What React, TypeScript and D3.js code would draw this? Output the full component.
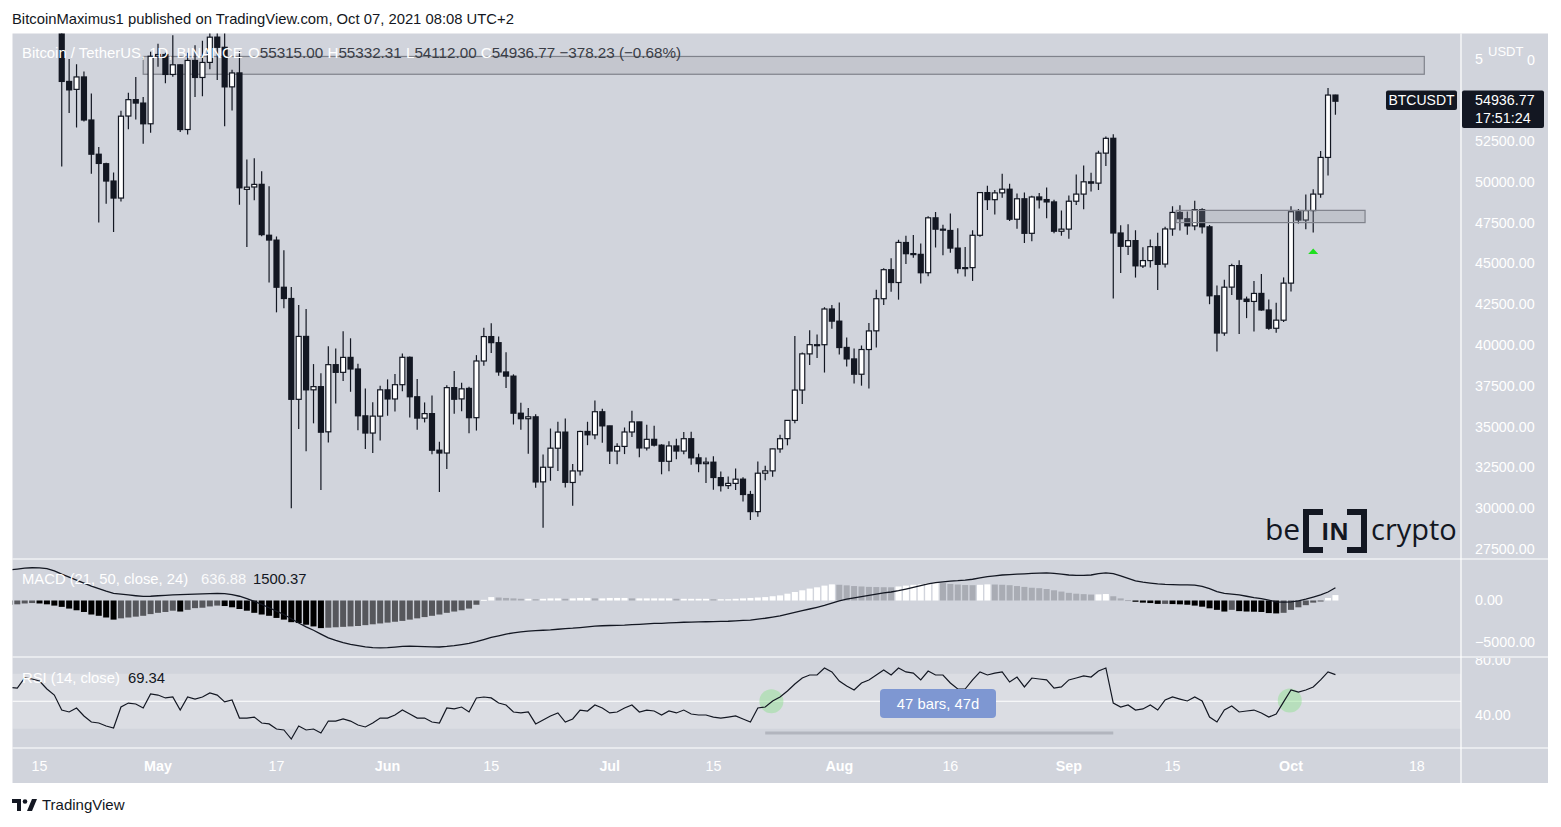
import React from 'react';
import * as d3 from 'd3';

// ---------- DATA (daily, 2021-04-11 .. 2021-10-07) ----------
const startDay = '2021-04-11';

const opens = [
  59770, 59964, 59835, 63503, 62963, 63110, 61342, 60006, 56150, 55663, 56425, 53787, 51690, 51110, 50047, 49004, 54030, 55036, 54824, 53555,
  57697, 57798, 56578, 57169, 53205, 57436, 56393, 57315, 58866, 58241, 55817, 56674, 49537, 49682, 49845, 46726, 46427, 43538, 42849, 36671, 40526, 37253, 37449, 34681, 38796, 38324, 39241, 38529, 35661, 34605, 35641,
  37253, 36694, 37568, 39246, 36830, 35517, 35796, 33556, 33381, 37389, 36697, 37340, 35546, 39020, 40516, 40143, 38349, 38092, 35820, 35483, 35601, 31614, 32509, 33675, 34663, 31577, 32283, 34702, 34494, 35911,
  35045, 33502, 33786, 34669, 35288, 33690, 34220, 33863, 32875, 33815, 33503, 34259, 33086, 32729, 32820, 31874, 31384, 31520, 31779, 30839, 29790, 32145, 32287, 33634, 34262, 35381, 37241, 39456, 40020, 40018, 42206,
  41461, 39851, 39147, 38208, 39723, 40868, 42836, 44614, 43829, 46280, 45601, 45554, 44429, 47793, 47096, 47019, 45937, 44686, 44741, 46723, 49339, 48905, 49322, 49546, 47706, 48961, 46843, 49072, 48911, 48768, 46970,
  47100, 48810, 49247, 50000, 49918, 51757, 52666, 46863, 46048, 46396, 44842, 45173, 46025, 44960, 47110, 48121, 47737, 47299, 48292, 47242, 43016, 40734, 43546, 44865, 42810, 42670, 43160, 42147, 41025, 41519,
  43791, 48166, 47657, 48234, 49246, 51493, 55315,
];
const highs = [
  60790, 61200, 63777, 64854, 63800, 63520, 62500, 60499, 57526, 57200, 56757, 55410, 52130, 51167, 50567, 54356, 55460, 56428, 55195, 57963,
  58458, 57911, 58981, 57200, 57911, 58360, 58650, 59500, 59300, 59500, 56862, 58000, 51367, 51439, 50639, 49720, 46643, 45799, 43547, 42451, 42200, 38831, 38270, 39920, 39791, 40841, 40411, 38856, 37338, 36488, 37499,
  37894, 38225, 39476, 39289, 37917, 36480, 36900, 34068, 37530, 38400, 37690, 37439, 39380, 41064, 41330, 40527, 39559, 38202, 36457, 36137, 35750, 33298, 34881, 35298, 35500, 32707, 34749, 35297, 36600, 36100,
  35057, 33977, 34945, 35967, 35293, 35118, 35059, 33918, 34100, 34262, 34666, 34678, 33340, 33114, 33185, 32249, 31949, 32435, 31899, 31063, 32858, 32595, 33650, 34500, 35398, 40550, 39542, 40900, 40640, 42316, 42448,
  42599, 40459, 39780, 39969, 41350, 43392, 44700, 45310, 46454, 46700, 46743, 46218, 47886, 48144, 47372, 48053, 47160, 46000, 47033, 49382, 49757, 49500, 50500, 49875, 49277, 49347, 49149, 49309, 49654, 48900, 48246,
  49156, 50450, 51000, 50558, 51900, 52780, 52920, 47340, 47399, 47031, 45987, 46460, 46880, 47250, 48500, 48557, 48177, 48843, 48372, 47347, 43639, 44000, 44978, 45200, 42966, 43919, 44350, 42787, 42590, 44141,
  48495, 48336, 49228, 49536, 51886, 55750, 55332.31,
];
const lows = [
  59289, 59369, 59800, 61301, 62000, 60000, 59580, 50931, 54221, 53329, 53695, 50500, 47500, 48657, 46930, 48800, 53222, 53813, 52330, 53013,
  57053, 56035, 56435, 53046, 52900, 55200, 55241, 56900, 56235, 53400, 54370, 48600, 46000, 48868, 46664, 43825, 42001, 42250, 30000, 34850, 33488, 35200, 31111, 34031, 36419, 37800, 37134, 34779, 33632, 33379, 34153,
  35666, 35920, 37170, 35555, 34800, 35257, 33300, 31000, 32396, 35782, 35936, 34600, 34757, 38730, 39506, 38116, 37365, 35129, 34803, 33336, 31251, 28806, 31683, 32286, 31275, 30151, 32000, 33862, 34225, 34017,
  32711, 32699, 33316, 34357, 33125, 33532, 33777, 32077, 32261, 33004, 33306, 32658, 32203, 31550, 31133, 31020, 31179, 31108, 30408, 29278, 29482, 31708, 31925, 33401, 33851, 35205, 36383, 38772, 39200, 38313, 41000,
  39422, 38690, 37642, 37508, 37333, 39853, 42446, 43261, 42779, 44969, 45341, 43771, 44217, 45971, 45500, 45660, 44376, 44203, 43927, 46628, 48272, 48003, 49029, 47600, 47122, 46250, 46361, 48370, 47762, 46853, 46700,
  46513, 48584, 48316, 49400, 49500, 50969, 42843, 44412, 45514, 44132, 44722, 44742, 43370, 44750, 46700, 47021, 46750, 47035, 46829, 42500, 39600, 40565, 43063, 40675, 41646, 40829, 42098, 40931, 40753, 41410,
  43283, 47438, 47088, 46891, 49021, 50382, 54112,
];
const closes = [
  59964, 59835, 63503, 62963, 63110, 61342, 60006, 56150, 55633, 56425, 53787, 51690, 51125, 50047, 49004, 54021, 55033, 54824, 53555, 57694,
  57800, 56578, 57169, 53200, 57436, 56393, 57314, 58862, 58240, 55816, 56670, 49631, 49671, 49841, 46762, 46431, 43538, 42849, 36671, 40526, 37252, 37449, 34655, 38796, 38324, 39241, 38529, 35663, 34605, 35641, 37253,
  36693, 37568, 39246, 36829, 35520, 35796, 33552, 33380, 37388, 36675, 37313, 35546, 39020, 40516, 40144, 38349, 38092, 35820, 35483, 35600, 31608, 32509, 33678, 34663, 31584, 32283, 34700, 34494, 35911, 35045,
  33504, 33786, 34669, 35287, 33691, 34220, 33863, 32875, 33815, 33502, 34259, 33086, 32729, 32820, 31880, 31383, 31520, 31778, 30839, 29790, 32144, 32287, 33634, 34258, 35381, 37237, 39457, 40020, 40017, 42206, 41461,
  39845, 39147, 38207, 39723, 40862, 42836, 44614, 43829, 46285, 45595, 45553, 44428, 47793, 47096, 47047, 45936, 44686, 44741, 46723, 49339, 48905, 49321, 49546, 47706, 48960, 46843, 49069, 48895, 48767, 46970, 47100,
  48810, 49246, 49999, 49915, 51756, 52663, 46863, 46048, 46395, 44850, 45173, 46025, 44940, 47111, 48122, 47737, 47299, 48292, 47241, 43015, 40734, 43543, 44865, 42810, 42670, 43160, 42147, 41026, 41522, 43790,
  48165, 47657, 48233, 49246, 51493, 55315, 54936.77,
];

const macdLine = [
  3600, 3700, 3800, 3850, 3840, 3750, 3490, 3100, 2750, 2400, 2050, 1700, 1400, 1100, 850, 750, 650, 560, 480, 500,
  560, 600, 650, 680, 720, 760, 790, 820, 830, 800, 700, 500, 230, -100, -450, -850, -1250, -1650, -2150, -2650, -3100, -3500, -3950, -4400, -4700, -4950, -5150, -5300, -5450, -5550, -5580,
  -5550, -5480, -5400, -5380, -5400, -5430, -5450, -5470, -5400, -5300, -5180, -5050, -4850, -4600, -4350, -4150, -3950, -3800, -3700, -3600, -3550, -3500, -3450, -3380, -3300, -3250, -3180, -3100, -3020, -2970,
  -2940, -2920, -2900, -2850, -2800, -2750, -2700, -2680, -2640, -2600, -2560, -2540, -2520, -2500, -2480, -2460, -2440, -2400, -2350, -2300, -2200, -2090, -1950, -1800, -1600, -1400, -1200, -1000, -800, -580, -300,
  -50, 150, 300, 450, 600, 750, 900, 1000, 1160, 1350, 1550, 1750, 1950, 2100, 2200, 2280, 2330, 2400, 2500, 2650, 2800, 2900, 3000, 3050, 3100, 3140, 3180, 3220, 3250, 3200, 3100,
  3000, 2950, 2950, 3000, 3150, 3260, 3150, 2900, 2600, 2300, 2150, 2050, 1950, 1900, 1870, 1850, 1840, 1820, 1650, 1400, 1050, 850, 750, 650, 500, 350, 220, 50, -150, -200,
  -150, -50, 150, 400, 650, 1000, 1500.37,
];
const macdHist = [
  -500, -450, -350, -300, -350, -450, -600, -750, -950, -1150, -1350, -1650, -1800, -2000, -2250, -2100, -2000, -1900, -1800, -1600,
  -1450, -1350, -1200, -1300, -1100, -900, -850, -700, -600, -650, -800, -1000, -1200, -1450, -1650, -1800, -2050, -2250, -2550, -2650, -2850, -3050, -3250, -3200, -3150, -3100, -3050, -3000, -2900, -2800, -2700,
  -2600, -2500, -2400, -2250, -2100, -1950, -1800, -1650, -1450, -1300, -1150, -950, -500, 80, 400, 350, 300, 250, 200, 200, 150, 200, 250, 250, 200, 250, 300, 300, 250, 250,
  300, 300, 300, 250, 250, 250, 250, 250, 250, 200, 200, 200, 200, 200, 150, 150, 150, 200, 250, 300, 350, 400, 500, 600, 800, 1000, 1200, 1400, 1550, 1750, 1900,
  1850, 1780, 1700, 1650, 1600, 1580, 1560, 1550, 1650, 1750, 1850, 1900, 2050, 2100, 2050, 1950, 1880, 1820, 1800, 1850, 1900, 1880, 1850, 1800, 1700, 1600, 1500, 1450, 1350, 1200, 1050,
  900, 800, 750, 700, 720, 760, 500, 250, 50, -150, -250, -300, -400, -400, -420, -450, -500, -600, -730, -920, -1100, -1300, -1100, -1250, -1300, -1320, -1350, -1480, -1520, -1450,
  -1100, -800, -550, -250, -100, 300, 636.88,
];
const rsiValues = [
  60, 59.6, 66.9, 66.2, 64.7, 58.9, 54.5, 43.6, 42.2, 45.1, 39.3, 34.9, 34.2, 32, 30.5, 45.8, 48.7, 48, 45.1, 55.3,
  54.5, 52.4, 53.1, 43.6, 53.1, 51.6, 53.1, 56, 54.5, 49.5, 50.9, 37.8, 37.8, 38.5, 34.2, 33.5, 29.8, 29.1, 22.5, 32, 29.1, 29.8, 26.9, 35.6, 35.6, 37.1, 35.6, 32.7, 31.3, 34.2, 37.8,
  37.8, 40, 43.6, 40.7, 37.8, 37.8, 34.9, 34.2, 45.1, 44.4, 45.8, 42.2, 52.4, 53.1, 52.4, 48.7, 47.3, 42.2, 41.5, 42.2, 33.5, 36.4, 39.3, 41.5, 34.9, 37.1, 43.6, 42.9, 47.3, 45.1,
  41.5, 42.2, 45.1, 47.3, 42.2, 43.6, 42.9, 40, 42.9, 41.5, 43.6, 40.7, 40, 40, 38.5, 37.8, 38.5, 39.3, 37.1, 34.9, 45.1, 45.8, 50.2, 53.1, 57.5, 62.5, 66.9, 69.1, 69.1, 74.2, 71.3,
  64.7, 61.1, 58.2, 63.3, 65.5, 69.1, 72.7, 69.1, 74.2, 71.3, 70.5, 65.5, 72, 69.1, 69.1, 63.3, 58.9, 58.9, 65.5, 71.3, 69.1, 70.5, 71.3, 64, 67.6, 60.4, 66.9, 66.2, 65.5, 59.6, 60.4,
  65.5, 66.9, 68.4, 67.6, 72, 74.2, 48.7, 45.8, 47.3, 43.6, 44.4, 47.3, 43.6, 50.9, 53.1, 51.6, 50.2, 53.1, 50.2, 38.5, 34.9, 43.6, 46.5, 42.2, 42.9, 43.6, 41.5, 38.5, 40.7, 49.5,
  58.2, 56.7, 58.2, 60.4, 65.5, 71.3, 69.34,
];

const priceTicks = [57500, 52500, 50000, 47500, 45000, 42500, 40000, 37500, 35000, 32500, 30000, 27500];
const macdTicks = [0, -5000];
const rsiTicks = [80, 40];
const timeTickDates = ['2021-04-15', '2021-05-01', '2021-05-17', '2021-06-01', '2021-06-15', '2021-07-01', '2021-07-15', '2021-08-01', '2021-08-16', '2021-09-01', '2021-09-15', '2021-10-01', '2021-10-18'];
const timeTickLabels = ['15', 'May', '17', 'Jun', '15', 'Jul', '15', 'Aug', '16', 'Sep', '15', 'Oct', '18'];

// zones drawn on the chart
const resistanceZone = { from: '2021-04-29', to: '2021-10-19', top: 57680, bottom: 56590 };
const supportZone = { from: '2021-09-15T12:00', to: '2021-10-11', top: 48250, bottom: 47500 };
const arrowDay = '2021-10-04';
const rsiCircles = [{ day: '2021-07-22T20:00', value: 50 }, { day: '2021-09-30T20:00', value: 50.5 }];
const measureRange = { from: '2021-07-22', to: '2021-09-07' };

const FONT = '"Liberation Sans", Arial, sans-serif';
const BG = '#d1d4dc';
const INK = '#131722';

const parse = (s: string) => new Date(s.length <= 10 ? s + 'T00:00:00Z' : s + ':00Z');

export default function App() {
  const dates = d3.range(opens.length).map((i) => d3.utcDay.offset(parse(startDay), i));
  const x = d3.scaleUtc().domain([parse('2021-05-01'), parse('2021-10-01')]).range([158, 1291]);
  const yP = d3.scaleLinear().domain([27500, 52500]).range([549, 141]);
  const yM = d3.scaleLinear().domain([-5000, 0]).range([643, 600.5]);
  const yR = d3.scaleLinear().domain([40, 80]).range([715, 660]);

  const L = 12.5, R = 1461, RR = 1548;
  const T = 33.5, PB = 559, MB = 657, RB = 748, B = 783;

  const macdPath = d3.line<number>().x((_, i) => x(dates[i])).y((v) => yM(v))(macdLine) || '';
  const rsiPath = d3.line<number>().x((_, i) => x(dates[i])).y((v) => yR(v))(rsiValues) || '';

  const histColor = (i: number) => {
    const v = macdHist[i];
    const p = i > 0 ? macdHist[i - 1] : v;
    if (v >= 0) return v >= p ? '#ffffff' : '#a9acb4';
    return v < p ? '#000000' : '#56575c';
  };

  const bw = 5;
  const axisFs = 14.3;

  return (
    <svg width={1561} height={827} style={{ position: 'absolute', left: 0, top: 0, background: '#ffffff' }} fontFamily={FONT}>
      <defs>
        <clipPath id="cp-price"><rect x={L} y={T} width={R - L} height={PB - T} /></clipPath>
        <clipPath id="cp-macd"><rect x={L} y={PB} width={R - L} height={MB - PB} /></clipPath>
        <clipPath id="cp-rsi"><rect x={L} y={MB} width={R - L} height={RB - MB} /></clipPath>
        <clipPath id="cp-rsiaxis"><rect x={R} y={MB + 1} width={RR - R} height={RB - MB - 1} /></clipPath>
        <clipPath id="cp-priceaxis"><rect x={R} y={T} width={RR - R} height={PB - T} /></clipPath>
      </defs>

      <text x={12} y={24} fontSize={14.8} fill={INK}>BitcoinMaximus1 published on TradingView.com, Oct 07, 2021 08:08 UTC+2</text>

      {/* chart background */}
      <rect x={L} y={T} width={RR - L} height={B - T} fill={BG} />

      {/* RSI band and mid line */}
      <rect x={L} y={yR(70)} width={R - L} height={yR(30) - yR(70)} fill="#ffffff" opacity={0.22} />
      <line x1={L} x2={R} y1={yR(50)} y2={yR(50)} stroke="#ffffff" strokeWidth={1.2} />

      {/* pane separators */}
      <g stroke="#ffffff" strokeWidth={1.2}>
        <line x1={L} x2={RR} y1={PB} y2={PB} />
        <line x1={L} x2={RR} y1={MB} y2={MB} />
        <line x1={L} x2={RR} y1={RB} y2={RB} />
        <line x1={R} x2={R} y1={T} y2={B} />
      </g>

      {/* price pane */}
      <g clipPath="url(#cp-price)">
        <rect x={x(parse(resistanceZone.from))} y={yP(resistanceZone.top)} width={x(parse(resistanceZone.to)) - x(parse(resistanceZone.from))} height={yP(resistanceZone.bottom) - yP(resistanceZone.top)} fill="#9598a1" fillOpacity={0.22} stroke="#7f828b" strokeWidth={1.2} />
        {dates.map((d, i) => {
          const cx = x(d);
          const up = closes[i] >= opens[i];
          const top = yP(Math.max(opens[i], closes[i]));
          const bot = yP(Math.min(opens[i], closes[i]));
          return (
            <g key={i}>
              <line x1={cx} x2={cx} y1={yP(highs[i])} y2={yP(lows[i])} stroke={INK} strokeWidth={1.2} />
              {up ? (
                <rect x={cx - bw / 2} y={top} width={bw} height={Math.max(bot - top, 1)} fill="#ffffff" stroke={INK} strokeWidth={1.2} />
              ) : (
                <rect x={cx - bw / 2 - 0.6} y={top - 0.6} width={bw + 1.2} height={Math.max(bot - top, 1) + 1.2} fill={INK} />
              )}
            </g>
          );
        })}
        <rect x={x(parse(supportZone.from))} y={yP(supportZone.top)} width={x(parse(supportZone.to)) - x(parse(supportZone.from))} height={yP(supportZone.bottom) - yP(supportZone.top)} fill="#9598a1" fillOpacity={0.28} stroke="#7f828b" strokeWidth={1.2} />
        <polygon points={`${x(parse(arrowDay)) - 5},254 ${x(parse(arrowDay))},248.5 ${x(parse(arrowDay)) + 5},254`} fill="#1fe01f" />
        <text x={22} y={58} fontSize={14.9} fill="#ffffff">Bitcoin / TetherUS, 1D, BINANCE</text>
        <text x={248} y={58} fontSize={15.2} fill="#3a3d46">
          <tspan fill="#ffffff">O</tspan>55315.00 <tspan fill="#ffffff">H</tspan>55332.31 <tspan fill="#ffffff">L</tspan>54112.00 <tspan fill="#ffffff">C</tspan>54936.77 −378.23 (−0.68%)
        </text>
        {/* beincrypto logo */}
        <g fill={INK}>
          <text x={1265} y={540} fontSize={30} fontFamily='"Open Sans", sans-serif'>be</text>
          <path d="M1303,509 h16 v6 h-10 v32 h10 v6 h-16 z" />
          <path d="M1367,509 h-16 v6 h10 v32 h-10 v6 h16 z" />
          <rect x={1319} y={509} width={4} height={6} />
          <rect x={1347} y={509} width={4} height={6} />
          <rect x={1319} y={547} width={4} height={6} />
          <rect x={1347} y={547} width={4} height={6} />
          <text x={1335} y={540} fontSize={24} fontWeight="bold" textAnchor="middle" fontFamily='"Open Sans", sans-serif'>IN</text>
          <text x={1371} y={540} fontSize={29} fontFamily='"Open Sans", sans-serif'>crypto</text>
        </g>
      </g>

      {/* MACD pane */}
      <g clipPath="url(#cp-macd)">
        {dates.map((d, i) => {
          const v = macdHist[i];
          const y0 = yM(0), y1 = yM(v);
          return <rect key={i} x={x(d) - 3} y={Math.min(y0, y1)} width={6} height={Math.max(Math.abs(y1 - y0), 1)} fill={histColor(i)} />;
        })}
        <path d={macdPath} fill="none" stroke={INK} strokeWidth={1.3} />
        <text x={22} y={584} fontSize={14.8} fill="#ffffff">MACD (21, 50, close, 24)</text>
        <text x={201} y={584} fontSize={14.8} fill="#ffffff" opacity={0.9}>636.88</text>
        <text x={253} y={584} fontSize={14.8} fill={INK}>1500.37</text>
      </g>

      {/* RSI pane */}
      <g clipPath="url(#cp-rsi)">
        {rsiCircles.map((c, i) => (
          <circle key={i} cx={x(parse(c.day))} cy={yR(c.value)} r={12} fill="#8be08b" opacity={0.45} />
        ))}
        <line x1={x(parse(measureRange.from))} x2={x(parse(measureRange.to))} y1={733} y2={733} stroke="#b2b5be" strokeWidth={3} />
        <path d={rsiPath} fill="none" stroke={INK} strokeWidth={1.2} />
        <rect x={880} y={689} width={116} height={29} rx={4} fill="#7e97d2" />
        <text x={938} y={709} fontSize={14.8} fill="#ffffff" textAnchor="middle">47 bars, 47d</text>
        <text x={22} y={683} fontSize={14.8} fill="#ffffff">RSI (14, close)</text>
        <text x={128} y={683} fontSize={14.8} fill={INK}>69.34</text>
      </g>

      {/* price axis */}
      <g clipPath="url(#cp-priceaxis)" fontSize={axisFs} fill="#ffffff">
        {priceTicks.map((t, i) => (
          <text key={i} x={1475} y={yP(t) + 5}>{t === 57500 ? '5' : d3.format('.2f')(t)}</text>
        ))}
        <text x={1527} y={yP(57500) + 6}>0</text>
        <text x={1488} y={56} fontSize={13}>USDT</text>
      </g>
      <rect x={1386} y={90.5} width={71} height={19.5} rx={2} fill={INK} />
      <text x={1421.5} y={105} fontSize={14} fill="#ffffff" textAnchor="middle">BTCUSDT</text>
      <rect x={R + 1} y={90.5} width={82} height={37.5} rx={2} fill={INK} />
      <text x={1475} y={105} fontSize={axisFs} fill="#ffffff">54936.77</text>
      <text x={1475} y={123} fontSize={axisFs} fill="#ffffff">17:51:24</text>

      {/* MACD axis */}
      <g fontSize={axisFs} fill="#ffffff">
        {macdTicks.map((t, i) => (
          <text key={i} x={1475} y={yM(t) + 4}>{t === 0 ? '0.00' : '\u22125000.00'}</text>
        ))}
      </g>
      {/* RSI axis */}
      <g clipPath="url(#cp-rsiaxis)" fontSize={axisFs} fill="#ffffff">
        {rsiTicks.map((t, i) => (
          <text key={i} x={1475} y={yR(t) + 5}>{d3.format('.2f')(t)}</text>
        ))}
      </g>

      {/* time axis */}
      <g fontSize={axisFs} fill="#ffffff" textAnchor="middle">
        {timeTickDates.map((s, i) => (
          <text key={i} x={x(parse(s))} y={771} fontWeight={/^[A-Z]/.test(timeTickLabels[i]) ? 'bold' : 'normal'}>{timeTickLabels[i]}</text>
        ))}
      </g>

      {/* TradingView footer */}
      <g fill={INK}>
        <path d="M12,799 h9 v12 h-4 v-8 h-5 z" />
        <circle cx={25} cy={801.5} r={2.3} />
        <path d="M27,811 l5,-12 h5 l-5,12 z" />
        <text x={42} y={810} fontSize={15}>TradingView</text>
      </g>
    </svg>
  );
}
